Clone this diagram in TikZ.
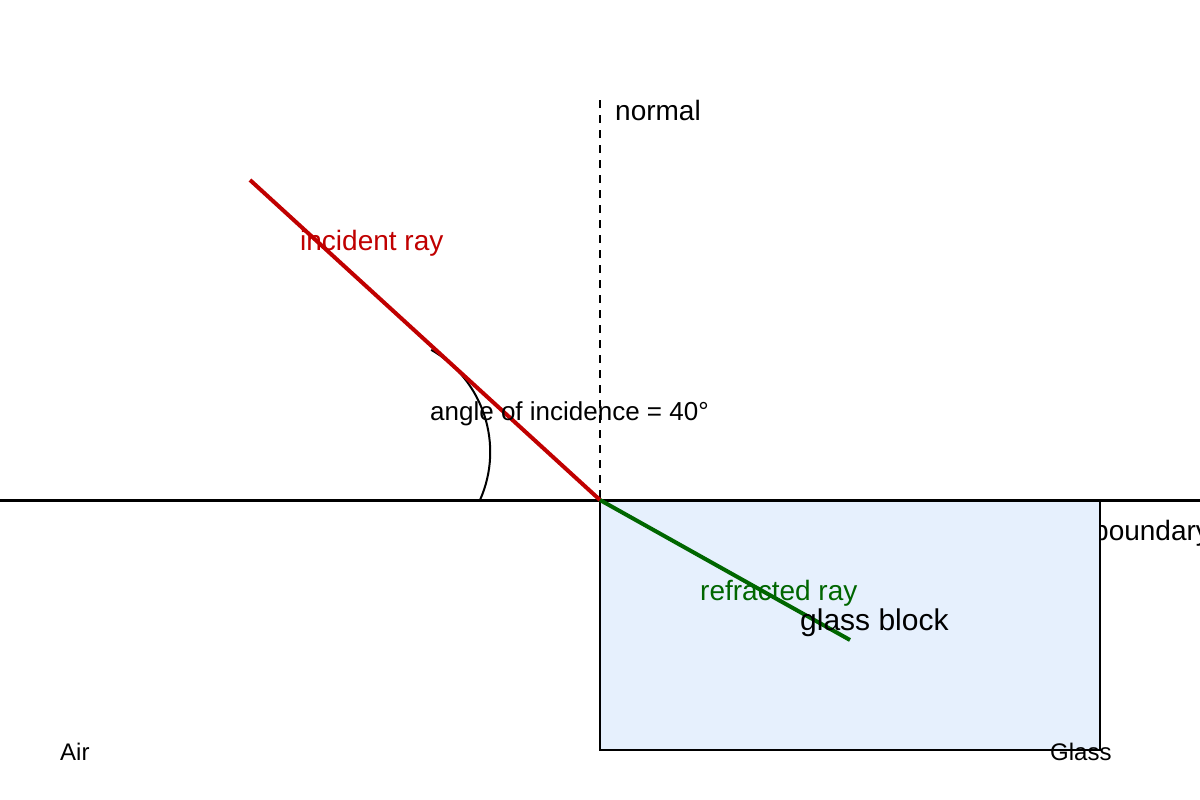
\documentclass[tikz,border=0pt]{standalone}
\usepackage{fontspec}
\setmainfont{Liberation Sans}
\definecolor{rayred}{RGB}{192,0,0}
\definecolor{raygreen}{RGB}{0,102,0}
\definecolor{glassfill}{RGB}{230,240,253}

\begin{document}
\begin{tikzpicture}
[x=1pt,y=-1pt,
 lbl/.style={anchor=base west,inner sep=0pt,font=\fontsize{28}{32}\selectfont},
 ray/.style={line width=4pt}]
\useasboundingbox (0,0) rectangle (1200,800);
\coordinate (O) at (600,500);
\coordinate (L) at (0,500);
\coordinate (R) at (1200,500);
\coordinate (N) at (600,100);
\coordinate (src) at (250,180);
\coordinate (end) at (850,640);
\node (bnd) at (1093,540) [lbl] {boundary};
\node (blk) at (850,625) [draw,line width=2pt,fill=glassfill,minimum width=500pt,minimum height=250pt,inner sep=0pt] {};
\draw [line width=3pt] (L) -- (R);
\draw [line width=2pt,dash pattern=on 8pt off 7pt] (N) -- (O);
\draw [line width=2pt] (480,500) arc[start angle=24,end angle=-60,radius=118];
\draw [ray,rayred] (src) -- (O);
\draw [ray,raygreen] (O) -- (end);
\node (nrm) at (615,120) [lbl] {normal};
\node (inc) at (300,250) [lbl,text=rayred] {incident ray};
\node (ang) at (430,420) [lbl,font=\fontsize{26}{30}\selectfont] {angle of incidence = 40°};
\node (ref) at (700,600) [lbl,text=raygreen] {refracted ray};
\node (gls) at (800,630) [lbl,font=\fontsize{30}{34}\selectfont] {glass block};
\node (air) at (60,760) [lbl,font=\fontsize{24}{28}\selectfont] {Air};
\node (gla) at (1050,760) [lbl,font=\fontsize{24}{28}\selectfont] {Glass};
\end{tikzpicture}
\end{document}
